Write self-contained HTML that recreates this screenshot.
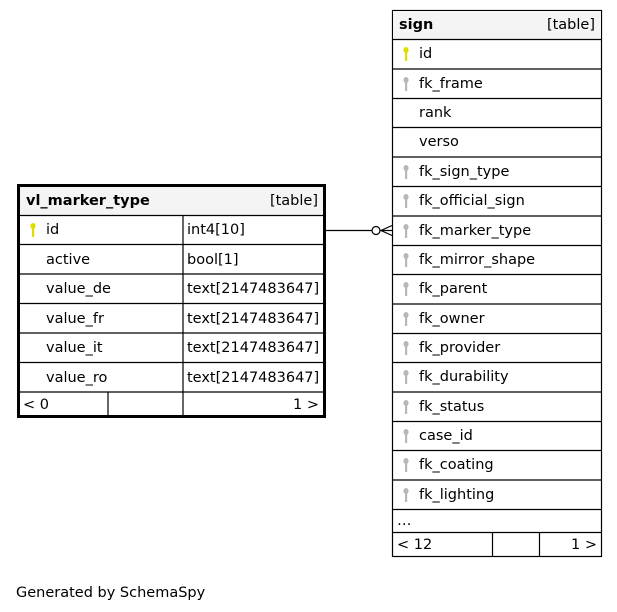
<!DOCTYPE html>
<html><head><meta charset="utf-8"><style>
html,body{margin:0;padding:0;background:#fff;width:617px;height:612px;overflow:hidden}
svg text{font-family:"DejaVu Sans","Liberation Sans",sans-serif;font-size:14.5px;fill:#000}
</style></head><body>
<svg width="617" height="612" xmlns="http://www.w3.org/2000/svg">
<defs>
<g id="ky"><ellipse cx="0" cy="-3" rx="2.6" ry="3" fill="#dddd00"/><rect x="-1" y="-1" width="2.2" height="9" fill="#dddd00"/></g>
<g id="kg"><ellipse cx="0" cy="-3" rx="2.6" ry="3" fill="#b8b8b8"/><rect x="-1" y="-1" width="2.2" height="9" fill="#b8b8b8"/></g>
</defs>
<rect x="18.5" y="185.5" width="306" height="231" fill="#fff" stroke="#000" stroke-width="3"/>
<rect x="20" y="187" width="303" height="28" fill="#f4f4f4"/>
<g stroke="#000" stroke-width="1.2" fill="none">
<line x1="20" y1="215.5" x2="323" y2="215.5"/>
<line x1="20" y1="244.5" x2="323" y2="244.5"/>
<line x1="20" y1="274" x2="323" y2="274"/>
<line x1="20" y1="303.5" x2="323" y2="303.5"/>
<line x1="20" y1="333" x2="323" y2="333"/>
<line x1="20" y1="362.5" x2="323" y2="362.5"/>
<line x1="20" y1="392" x2="323" y2="392"/>
<line x1="183" y1="215" x2="183" y2="415"/>
<line x1="108" y1="392" x2="108" y2="415"/>
</g>
<text x="26" y="205" font-weight="bold">vl_marker_type</text>
<text x="318" y="205" text-anchor="end">[table]</text>
<use href="#ky" x="33" y="229"/>
<text x="46" y="234">id</text><text x="187" y="234">int4[10]</text>
<text x="46" y="264">active</text><text x="187" y="264">bool[1]</text>
<text x="46" y="293">value_de</text><text x="187" y="293">text[2147483647]</text>
<text x="46" y="323">value_fr</text><text x="187" y="323">text[2147483647]</text>
<text x="46" y="352">value_it</text><text x="187" y="352">text[2147483647]</text>
<text x="46" y="382">value_ro</text><text x="187" y="382">text[2147483647]</text>
<text x="23" y="409">&lt; 0</text><text x="319" y="409" text-anchor="end">1 &gt;</text>
<g stroke="#000" stroke-width="1.2" fill="none">
<line x1="325" y1="230.5" x2="372" y2="230.5"/>
<circle cx="376" cy="230.5" r="4" fill="#fff"/>
<line x1="380" y1="230.5" x2="392" y2="230.5"/>
<line x1="381" y1="230.5" x2="392" y2="225.5"/>
<line x1="381" y1="230.5" x2="392" y2="235.5"/>
</g>
<rect x="392.5" y="10.5" width="209" height="546" fill="#fff" stroke="#000" stroke-width="1.2"/>
<rect x="393" y="11" width="208" height="28" fill="#f4f4f4"/>
<g stroke="#000" stroke-width="1.2">
<line x1="392" y1="39.5" x2="602" y2="39.5"/>
<line x1="392" y1="69" x2="602" y2="69"/>
<line x1="392" y1="98.5" x2="602" y2="98.5"/>
<line x1="392" y1="127.5" x2="602" y2="127.5"/>
<line x1="392" y1="157" x2="602" y2="157"/>
<line x1="392" y1="186.5" x2="602" y2="186.5"/>
<line x1="392" y1="216" x2="602" y2="216"/>
<line x1="392" y1="245.5" x2="602" y2="245.5"/>
<line x1="392" y1="274.5" x2="602" y2="274.5"/>
<line x1="392" y1="304" x2="602" y2="304"/>
<line x1="392" y1="333.5" x2="602" y2="333.5"/>
<line x1="392" y1="362.5" x2="602" y2="362.5"/>
<line x1="392" y1="392" x2="602" y2="392"/>
<line x1="392" y1="421.5" x2="602" y2="421.5"/>
<line x1="392" y1="450.5" x2="602" y2="450.5"/>
<line x1="392" y1="480" x2="602" y2="480"/>
<line x1="392" y1="509.5" x2="602" y2="509.5"/>
<line x1="392" y1="532.5" x2="602" y2="532.5"/>
<line x1="492.5" y1="532" x2="492.5" y2="557"/>
<line x1="539.5" y1="532" x2="539.5" y2="557"/>
</g>
<text x="399" y="29" font-weight="bold">sign</text>
<text x="595" y="29" text-anchor="end">[table]</text>
<use href="#ky" x="406" y="53"/><text x="419" y="58">id</text>
<use href="#kg" x="406" y="83"/><text x="419" y="88">fk_frame</text>
<text x="419" y="117">rank</text>
<text x="419" y="146">verso</text>
<use href="#kg" x="406" y="171"/><text x="419" y="176">fk_sign_type</text>
<use href="#kg" x="406" y="200"/><text x="419" y="205">fk_official_sign</text>
<use href="#kg" x="406" y="230"/><text x="419" y="235">fk_marker_type</text>
<use href="#kg" x="406" y="259"/><text x="419" y="264">fk_mirror_shape</text>
<use href="#kg" x="406" y="288"/><text x="419" y="293">fk_parent</text>
<use href="#kg" x="406" y="318"/><text x="419" y="323">fk_owner</text>
<use href="#kg" x="406" y="347"/><text x="419" y="352">fk_provider</text>
<use href="#kg" x="406" y="376"/><text x="419" y="381">fk_durability</text>
<use href="#kg" x="406" y="406"/><text x="419" y="411">fk_status</text>
<use href="#kg" x="406" y="435"/><text x="419" y="440">case_id</text>
<use href="#kg" x="406" y="464"/><text x="419" y="469">fk_coating</text>
<use href="#kg" x="406" y="494"/><text x="419" y="499">fk_lighting</text>
<text x="397" y="525">…</text>
<text x="397" y="549">&lt; 12</text><text x="597" y="549" text-anchor="end">1 &gt;</text>
<text x="16" y="597">Generated by SchemaSpy</text>
</svg>
</body></html>
